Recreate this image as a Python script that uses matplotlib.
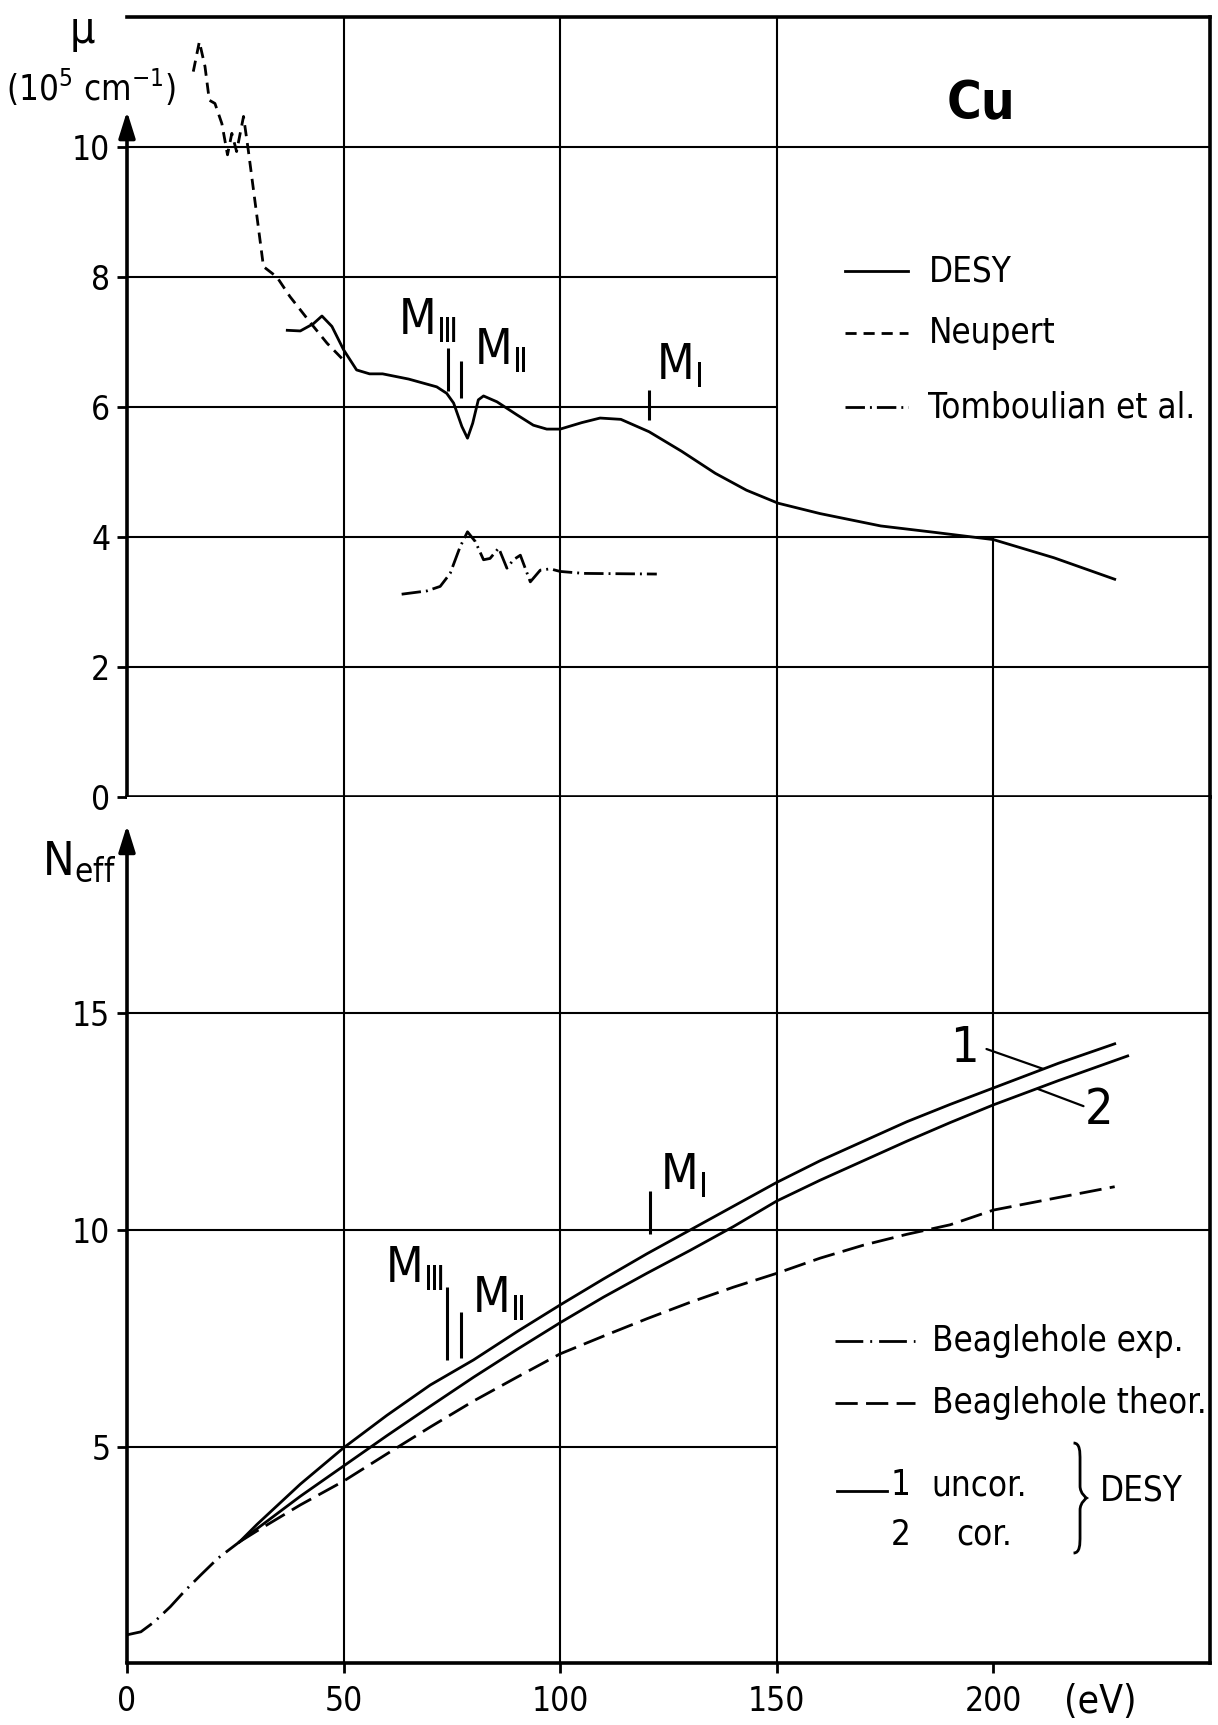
import matplotlib.pyplot as plt
from matplotlib import font_manager as fm
from matplotlib.path import Path
from matplotlib.patches import PathPatch


def pick_narrow_font():
    # the original lettering is a narrow DIN-like face; use any condensed sans
    order = {'extra-condensed': 0, 'condensed': 1, 'semi-condensed': 2,
             'ultra-condensed': 3}
    best = None
    for f in fm.fontManager.ttflist:
        name = f.name
        if any(k in name for k in ('Mono', 'Serif', 'CJK', 'Math')):
            continue
        if f.style != 'normal' or f.weight not in (400, 'normal', 'regular'):
            continue
        st = str(f.stretch)
        if st in order:
            rank = order[st]
        elif 'Narrow' in name or 'Condensed' in name:
            rank = 1
        else:
            continue
        if best is None or rank < best[0]:
            best = (rank, name, st)
    if best is None:
        return 'DejaVu Sans', 'normal', 0.9
    return best[1], best[2], 1.0


FONT, STRETCH, K = pick_narrow_font()
plt.rcParams['font.family'] = [FONT, 'DejaVu Sans']
plt.rcParams['font.stretch'] = STRETCH
plt.rcParams['mathtext.default'] = 'regular'

# upper panel: absorption coefficient mu (10^5 cm^-1) vs photon energy (eV)
desy_e = [37, 40, 43, 45, 47.3, 50, 53, 56, 59, 65, 71.5, 73.8, 75.4, 77.3, 78.6,
          79.8, 81.1, 82.3, 85.4, 90, 93.8, 96.9, 100, 105, 109.2, 114, 120.5,
          128, 135.8, 143, 150.3, 160, 174, 186.6, 200, 214, 228]
desy_mu = [7.18, 7.17, 7.28, 7.40, 7.24, 6.88, 6.57, 6.51, 6.51, 6.43, 6.31, 6.21,
           6.06, 5.70, 5.52, 5.75, 6.11, 6.17, 6.08, 5.88, 5.72, 5.66, 5.66, 5.76,
           5.83, 5.81, 5.62, 5.32, 4.98, 4.72, 4.52, 4.36, 4.17, 4.07, 3.96, 3.68, 3.35]

neupert_e = [15.3, 16.7, 18.0, 19.0, 20.3, 21.9, 23.2, 24.2, 25.3, 26.9, 28.0,
             30.0, 31.5, 34.6, 37.6, 42.3, 46.2, 50.0]
neupert_mu = [11.16, 11.62, 11.24, 10.72, 10.67, 10.36, 9.88, 10.21, 9.93, 10.47,
              9.95, 8.93, 8.16, 8.0, 7.70, 7.30, 6.98, 6.72]

tomb_e = [63.4, 69.2, 72.3, 74.6, 76.9, 78.6, 80.4, 82.3, 83.8, 85.8, 87.7, 89.2,
          90.8, 93.1, 95.4, 97.7, 100, 105.4, 122.3]
tomb_mu = [3.12, 3.17, 3.24, 3.44, 3.85, 4.08, 3.93, 3.65, 3.67, 3.83, 3.52, 3.65,
           3.72, 3.31, 3.49, 3.51, 3.47, 3.44, 3.43]

# lower panel: N_eff vs photon energy (eV)
n1_e = [26, 30, 40, 50, 60, 70, 80, 90, 100, 110, 120, 130, 140, 150, 160, 170,
        180, 190, 200, 215, 228]
n1 = [2.8, 3.2, 4.13, 4.97, 5.72, 6.42, 7.0, 7.65, 8.27, 8.87, 9.45, 10.0, 10.55,
      11.1, 11.6, 12.05, 12.5, 12.9, 13.28, 13.85, 14.3]

n2_e = [26, 30, 40, 50, 60, 70, 80, 90, 100, 110, 120, 130, 140, 150, 160, 170,
        180, 190, 200, 215, 231]
n2 = [2.8, 3.1, 3.85, 4.55, 5.25, 5.93, 6.6, 7.24, 7.86, 8.45, 9.0, 9.53, 10.08,
      10.67, 11.15, 11.6, 12.05, 12.48, 12.89, 13.45, 14.02]

theor_e = [26, 30, 40, 50, 60, 70, 80, 90, 100, 110, 120, 130, 140, 150, 160, 170,
           180, 190, 200, 215, 228]
theor_n = [2.8, 3.05, 3.65, 4.2, 4.83, 5.45, 6.05, 6.6, 7.14, 7.55, 7.95, 8.33,
           8.68, 9.0, 9.35, 9.65, 9.9, 10.12, 10.46, 10.75, 11.0]

exp_e = [0, 3.2, 6.3, 10, 13.2, 17, 21, 26]
exp_n = [0.65, 0.72, 0.95, 1.3, 1.65, 2.03, 2.42, 2.8]

mu_ticks = [0, 2, 4, 6, 8, 10]
neff_ticks = [5, 10, 15]
e_ticks = [0, 50, 100, 150, 200]

W, H = 1218, 1725
fig = plt.figure(figsize=(W / 100, H / 100), dpi=100)
ax1 = fig.add_axes([127 / W, 1 - 797 / H, 1083 / W, 780 / H])
ax2 = fig.add_axes([127 / W, 1 - 1663 / H, 1083 / W, 866 / H])

ax1.set_xlim(0, 250)
ax1.set_ylim(0, 12)
ax2.set_xlim(0, 250)
ax2.set_ylim(0, 20)

FRAME = 2.6
GRID = 1.5
LW = 2.0
TICK = 24 * K
LEG = 25 * K
MSZ = 35 * K

for ax in (ax1, ax2):
    ax.spines['left'].set_visible(False)
    for s in ('top', 'right', 'bottom'):
        ax.spines[s].set_linewidth(FRAME)
    ax.tick_params(axis='both', direction='out', length=7, width=2,
                   labelsize=TICK, pad=5)
ax2.spines['top'].set_visible(False)

ax1.set_yticks(mu_ticks)
ax1.tick_params(axis='x', bottom=False, labelbottom=False)
ax2.set_yticks(neff_ticks)
ax2.set_xticks(e_ticks)
ax2.tick_params(axis='x', pad=9)

# grid segments (some are cut where the labels sit)
ax1.hlines([2, 4, 10], 0, 250, color='black', lw=GRID, zorder=1)
ax1.hlines([6, 8], 0, 150, color='black', lw=GRID, zorder=1)
ax1.vlines([50, 100, 150], 0, 12, color='black', lw=GRID, zorder=1)
ax1.vlines(200, 0, 4, color='black', lw=GRID, zorder=1)

ax2.hlines([10, 15], 0, 250, color='black', lw=GRID, zorder=1)
ax2.hlines(5, 0, 150, color='black', lw=GRID, zorder=1)
ax2.vlines([50, 100, 150], 0, 20, color='black', lw=GRID, zorder=1)
ax2.vlines(200, 10, 20, color='black', lw=GRID, zorder=1)

# y axes with arrow heads
arrow = dict(arrowstyle='-|>,head_length=0.8,head_width=0.25', lw=2.6,
             color='black', shrinkA=0, shrinkB=0, mutation_scale=20)
ax1.annotate('', xy=(0, 10.55), xytext=(0, 0), arrowprops=arrow,
             annotation_clip=False)
ax2.annotate('', xy=(0, 19.35), xytext=(0, 0), arrowprops=arrow,
             annotation_clip=False)

# curves
ax1.plot(desy_e, desy_mu, color='black', lw=LW, zorder=3)
ax1.plot(neupert_e, neupert_mu, color='black', lw=LW, ls=(0, (4, 2.5)), zorder=3)
ax1.plot(tomb_e, tomb_mu, color='black', lw=LW, ls=(0, (7, 1.8, 0.7, 1.8)), zorder=3)

ax2.plot(n1_e, n1, color='black', lw=LW, zorder=3)
ax2.plot(n2_e, n2, color='black', lw=LW, zorder=3)
ax2.plot(theor_e, theor_n, color='black', lw=LW, ls=(0, (8, 3)), zorder=3)
ax2.plot(exp_e, exp_n, color='black', lw=LW, ls=(0, (10, 2.5, 0.7, 2.5)), zorder=3)


# absorption edge markers
def edge(ax, x, y, sub):
    ax.text(x, y, 'M$_{%s}$' % sub, fontsize=MSZ, va='baseline', ha='left')


edge(ax1, 62.5, 7.11, 'Ⅲ')
edge(ax1, 80.0, 6.65, 'Ⅱ')
edge(ax1, 122.0, 6.42, 'Ⅰ')
ax1.vlines([74.2], 6.25, 6.9, color='black', lw=2.2)
ax1.vlines([77.1], 6.14, 6.70, color='black', lw=2.2)
ax1.vlines([120.5], 5.8, 6.26, color='black', lw=2.2)

edge(ax2, 59.5, 8.78, 'Ⅲ')
edge(ax2, 79.6, 8.08, 'Ⅱ')
edge(ax2, 123.1, 10.92, 'Ⅰ')
ax2.vlines([73.8], 7.0, 8.69, color='black', lw=2.2)
ax2.vlines([77.1], 7.04, 8.11, color='black', lw=2.2)
ax2.vlines([120.8], 9.9, 10.9, color='black', lw=2.2)

# curve numbers with leader lines
ax2.text(196.5, 14.2, '1', fontsize=36 * K, ha='right', va='center')
ax2.annotate('', xy=(211.5, 13.72), xytext=(198.4, 14.18),
             arrowprops=dict(arrowstyle='-', lw=1.6, shrinkA=0, shrinkB=0))
ax2.text(221.2, 12.77, '2', fontsize=36 * K, ha='left', va='center')
ax2.annotate('', xy=(210.2, 13.26), xytext=(220.8, 12.86),
             arrowprops=dict(arrowstyle='-', lw=1.6, shrinkA=0, shrinkB=0))

# upper legend
ax1.text(0.789, 0.888, 'Cu', transform=ax1.transAxes, fontsize=38 * K,
         fontweight='bold', ha='center', va='center')
rows = [('DESY', '-', 0.674), ('Neupert', (0, (4, 2.5)), 0.595),
        ('Tomboulian et al.', (0, (7, 1.8, 0.7, 1.8)), 0.500)]
for label, ls, y in rows:
    ax1.plot([0.663, 0.721], [y, y], transform=ax1.transAxes, color='black',
             lw=LW, ls=ls)
    ax1.text(0.740, y, label, transform=ax1.transAxes, fontsize=LEG,
             ha='left', va='center')

# lower legend
rows = [('Beaglehole exp.', (0, (10, 2.5, 0.7, 2.5)), 0.372),
        ('Beaglehole theor.', (0, (8, 3)), 0.300)]
for label, ls, y in rows:
    ax2.plot([0.654, 0.728], [y, y], transform=ax2.transAxes, color='black',
             lw=LW, ls=ls)
    ax2.text(0.743, y, label, transform=ax2.transAxes, fontsize=LEG,
             ha='left', va='center')
ax2.plot([0.656, 0.702], [0.199, 0.199], transform=ax2.transAxes,
         color='black', lw=LW)
ax2.text(0.714, 0.205, '1', transform=ax2.transAxes, fontsize=LEG,
         ha='center', va='center')
ax2.text(0.714, 0.148, '2', transform=ax2.transAxes, fontsize=LEG,
         ha='center', va='center')
ax2.text(0.743, 0.205, 'uncor.', transform=ax2.transAxes, fontsize=LEG,
         ha='left', va='center')
ax2.text(0.766, 0.148, 'cor.', transform=ax2.transAxes, fontsize=LEG,
         ha='left', va='center')
ax2.text(0.898, 0.199, 'DESY', transform=ax2.transAxes, fontsize=LEG,
         ha='left', va='center')

# curly brace joining "uncor." and "cor."
x0, d = 0.874, 0.006
yt, ym, yb = 0.254, 0.1905, 0.127
verts = [(x0, yt), (x0 + d, yt), (x0 + d, yt - 0.01), (x0 + d, yt - 0.02),
         (x0 + d, ym + 0.014),
         (x0 + d, ym + 0.005), (x0 + 2 * d, ym), (x0 + 2 * d, ym),
         (x0 + 2 * d, ym), (x0 + d, ym - 0.005), (x0 + d, ym - 0.014),
         (x0 + d, yb + 0.02),
         (x0 + d, yb + 0.01), (x0 + d, yb), (x0, yb)]
codes = [Path.MOVETO, Path.CURVE4, Path.CURVE4, Path.CURVE4, Path.LINETO,
         Path.CURVE4, Path.CURVE4, Path.CURVE4,
         Path.CURVE4, Path.CURVE4, Path.CURVE4, Path.LINETO,
         Path.CURVE4, Path.CURVE4, Path.CURVE4]
ax2.add_patch(PathPatch(Path(verts, codes), transform=ax2.transAxes,
                        fill=False, lw=2.0, edgecolor='black'))

# axis labels
fig.text(82 / W, 1 - 30 / H, 'μ', fontsize=32 * K, ha='center', va='center')
fig.text(91 / W, 1 - 87 / H, '(10$^5$ cm$^{-1}$)', fontsize=25 * K,
         ha='center', va='center')
fig.text(116 / W, 1 - 874 / H, 'N$_{eff}$', fontsize=34 * K, ha='right',
         va='baseline')
fig.text(1100 / W, 1 - 1702 / H, '(eV)', fontsize=28 * K, ha='center',
         va='center')

fig.savefig('out.png', dpi=100)
